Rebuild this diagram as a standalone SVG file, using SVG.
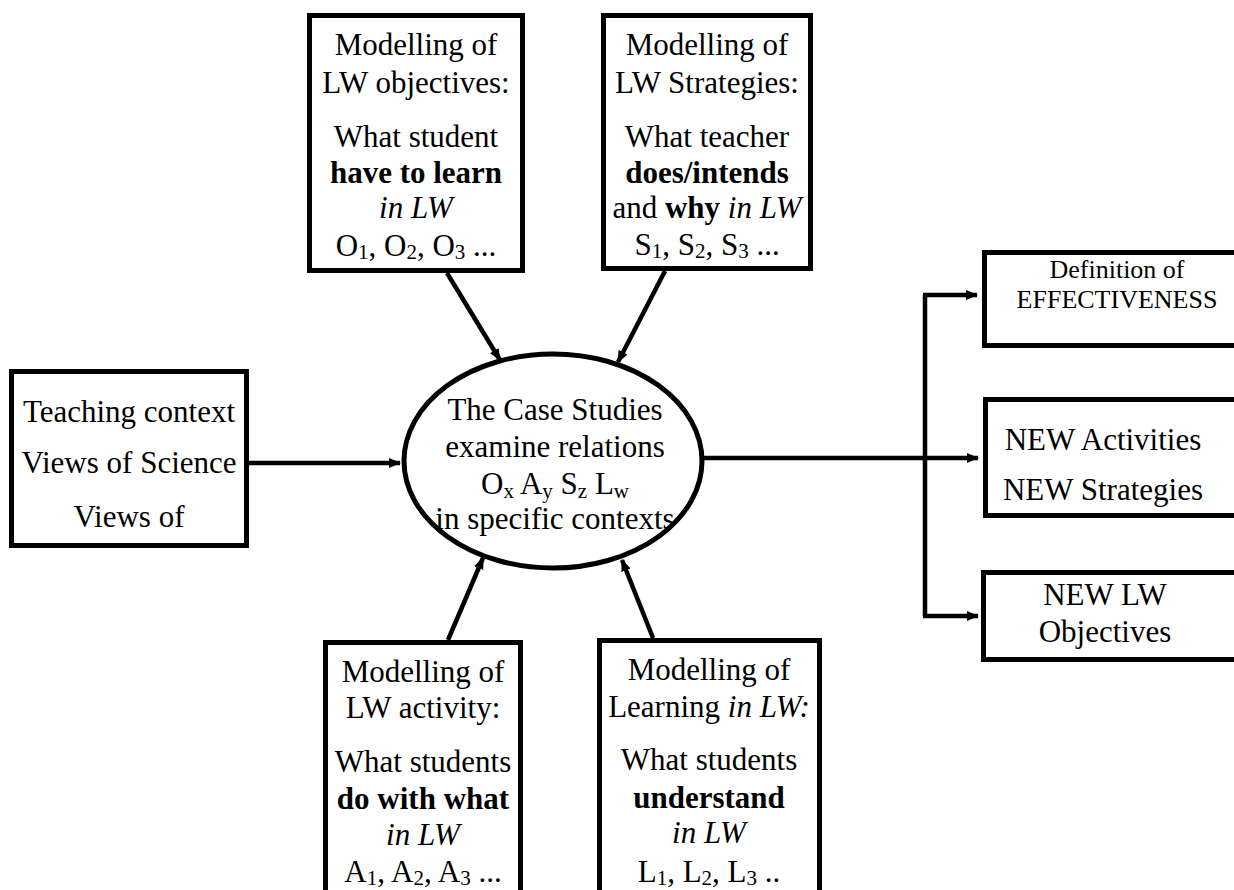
<svg xmlns="http://www.w3.org/2000/svg" width="1234" height="890" viewBox="0 0 1234 890">
  <style>
    svg g[id] text, svg g[id] tspan { font-family: 'Liberation Serif', 'Times New Roman', serif !important; }
    .frame { fill: #fff; stroke: #000; stroke-width: 5; }
    .link { fill: none; stroke: #000; stroke-width: 4.5; }
  </style>
  <defs>
    <marker id="arrow" viewBox="0 0 12 10" refX="11" refY="5" markerWidth="12" markerHeight="10" markerUnits="userSpaceOnUse" orient="auto">
      <path d="M0,0 L12,5 L0,10 z" fill="#000"/>
    </marker>
  </defs>
  <rect width="1234" height="890" fill="#fff"/>

  <!-- connectors -->
  <g id="connectors">
    <line class="link" x1="447" y1="273" x2="500" y2="360" marker-end="url(#arrow)"/>
    <line class="link" x1="665" y1="271" x2="618" y2="362" marker-end="url(#arrow)"/>
    <line class="link" x1="249" y1="463" x2="400" y2="463" marker-end="url(#arrow)"/>
    <line class="link" x1="448" y1="640" x2="483" y2="558" marker-end="url(#arrow)"/>
    <line class="link" x1="653" y1="638" x2="622" y2="560" marker-end="url(#arrow)"/>
    <line class="link" x1="702" y1="458" x2="978" y2="458" marker-end="url(#arrow)"/>
    <polyline class="link" points="925,295 925,616"/>
    <line class="link" x1="923" y1="295" x2="977" y2="295" marker-end="url(#arrow)"/>
    <line class="link" x1="923" y1="616" x2="978" y2="616" marker-end="url(#arrow)"/>
  </g>

  <!-- objectives -->
  <g id="objectives">
    <rect class="frame" x="309.5" y="15.5" width="213" height="255"/>
    <text style="font-family:'Liberation Serif',serif;font-size:31px;text-anchor:middle" x="416" y="55">Modelling of</text>
    <text style="font-family:'Liberation Serif',serif;font-size:31px;text-anchor:middle" x="416" y="93">LW objectives:</text>
    <text style="font-family:'Liberation Serif',serif;font-size:31px;text-anchor:middle" x="416" y="147">What student</text>
    <text style="font-family:'Liberation Serif',serif;font-size:31px;text-anchor:middle;font-weight:bold" x="416" y="183">have to learn</text>
    <text style="font-family:'Liberation Serif',serif;font-size:31px;text-anchor:middle;font-style:italic" x="416" y="218">in LW</text>
    <text style="font-family:'Liberation Serif',serif;font-size:31px;text-anchor:middle" x="416" y="256">O<tspan style="font-size:21px" baseline-shift="-3">1</tspan>, O<tspan style="font-size:21px" baseline-shift="-3">2</tspan>, O<tspan style="font-size:21px" baseline-shift="-3">3</tspan> ...</text>
  </g>

  <!-- strategies -->
  <g id="strategies">
    <rect class="frame" x="603.5" y="15.5" width="207" height="253"/>
    <text style="font-family:'Liberation Serif',serif;font-size:31px;text-anchor:middle" x="707" y="55">Modelling of</text>
    <text style="font-family:'Liberation Serif',serif;font-size:31px;text-anchor:middle" x="707" y="93">LW Strategies:</text>
    <text style="font-family:'Liberation Serif',serif;font-size:31px;text-anchor:middle" x="707" y="147">What teacher</text>
    <text style="font-family:'Liberation Serif',serif;font-size:31px;text-anchor:middle;font-weight:bold" x="707" y="183">does/intends</text>
    <text style="font-family:'Liberation Serif',serif;font-size:31px;text-anchor:middle" x="707" y="218">and <tspan style="font-weight:bold">why</tspan> <tspan style="font-style:italic">in LW</tspan></text>
    <text style="font-family:'Liberation Serif',serif;font-size:31px;text-anchor:middle" x="707" y="255">S<tspan style="font-size:21px" baseline-shift="-3">1</tspan>, S<tspan style="font-size:21px" baseline-shift="-3">2</tspan>, S<tspan style="font-size:21px" baseline-shift="-3">3</tspan> ...</text>
  </g>

  <!-- context -->
  <g id="context">
    <rect class="frame" x="11.5" y="371.5" width="235" height="174"/>
    <text style="font-family:'Liberation Serif',serif;font-size:31px;text-anchor:middle" x="129" y="422">Teaching context</text>
    <text style="font-family:'Liberation Serif',serif;font-size:31px;text-anchor:middle" x="129" y="473">Views of Science</text>
    <text style="font-family:'Liberation Serif',serif;font-size:31px;text-anchor:middle" x="129" y="527">Views of</text>
  </g>

  <!-- case studies -->
  <g id="case-studies">
    <ellipse cx="553" cy="461" rx="149" ry="107" fill="none" stroke="#000" stroke-width="5"/>
    <text style="font-family:'Liberation Serif',serif;font-size:31px;text-anchor:middle" x="555" y="420">The Case Studies</text>
    <text style="font-family:'Liberation Serif',serif;font-size:31px;text-anchor:middle" x="555" y="457">examine relations</text>
    <text style="font-family:'Liberation Serif',serif;font-size:31px;text-anchor:middle" x="555" y="494">O<tspan style="font-size:21px" baseline-shift="-4">x</tspan> A<tspan style="font-size:21px" baseline-shift="-4">y</tspan> S<tspan style="font-size:21px" baseline-shift="-4">z</tspan> L<tspan style="font-size:21px" baseline-shift="-4">w</tspan></text>
    <text style="font-family:'Liberation Serif',serif;font-size:31px;text-anchor:middle" x="555" y="529">in specific contexts</text>
  </g>

  <!-- activity -->
  <g id="activity">
    <rect class="frame" x="325.5" y="642.5" width="195" height="260"/>
    <text style="font-family:'Liberation Serif',serif;font-size:31px;text-anchor:middle" x="423" y="682">Modelling of</text>
    <text style="font-family:'Liberation Serif',serif;font-size:31px;text-anchor:middle" x="423" y="718">LW activity:</text>
    <text style="font-family:'Liberation Serif',serif;font-size:31px;text-anchor:middle" x="423" y="772">What students</text>
    <text style="font-family:'Liberation Serif',serif;font-size:31px;text-anchor:middle;font-weight:bold" x="423" y="809">do with what</text>
    <text style="font-family:'Liberation Serif',serif;font-size:31px;text-anchor:middle;font-style:italic" x="423" y="845">in LW</text>
    <text style="font-family:'Liberation Serif',serif;font-size:31px;text-anchor:middle" x="423" y="882">A<tspan style="font-size:21px" baseline-shift="-3">1</tspan>, A<tspan style="font-size:21px" baseline-shift="-3">2</tspan>, A<tspan style="font-size:21px" baseline-shift="-3">3</tspan> ...</text>
  </g>

  <!-- learning -->
  <g id="learning">
    <rect class="frame" x="599.5" y="640.5" width="220" height="260"/>
    <text style="font-family:'Liberation Serif',serif;font-size:31px;text-anchor:middle" x="709" y="680">Modelling of</text>
    <text style="font-family:'Liberation Serif',serif;font-size:31px;text-anchor:middle" x="709" y="717">Learning <tspan style="font-style:italic">in LW:</tspan></text>
    <text style="font-family:'Liberation Serif',serif;font-size:31px;text-anchor:middle" x="709" y="770">What students</text>
    <text style="font-family:'Liberation Serif',serif;font-size:31px;text-anchor:middle;font-weight:bold" x="709" y="808">understand</text>
    <text style="font-family:'Liberation Serif',serif;font-size:31px;text-anchor:middle;font-style:italic" x="709" y="843">in LW</text>
    <text style="font-family:'Liberation Serif',serif;font-size:31px;text-anchor:middle" x="709" y="882">L<tspan style="font-size:21px" baseline-shift="-3">1</tspan>, L<tspan style="font-size:21px" baseline-shift="-3">2</tspan>, L<tspan style="font-size:21px" baseline-shift="-3">3</tspan> ..</text>
  </g>

  <!-- outcomes -->
  <g id="effectiveness">
    <rect class="frame" x="984.5" y="252.5" width="260" height="93"/>
    <text style="font-family:'Liberation Serif',serif;font-size:26px;text-anchor:middle" x="1117" y="278">Definition of</text>
    <text style="font-family:'Liberation Serif',serif;font-size:26px;text-anchor:middle" x="1117" y="308">EFFECTIVENESS</text>
  </g>
  <g id="new-activities">
    <rect class="frame" x="985.5" y="399.5" width="260" height="116"/>
    <text style="font-family:'Liberation Serif',serif;font-size:31px;text-anchor:middle" x="1103" y="450">NEW Activities</text>
    <text style="font-family:'Liberation Serif',serif;font-size:31px;text-anchor:middle" x="1103" y="500">NEW Strategies</text>
  </g>
  <g id="new-objectives">
    <rect class="frame" x="983.5" y="572.5" width="260" height="87"/>
    <text style="font-family:'Liberation Serif',serif;font-size:31px;text-anchor:middle" x="1105" y="605">NEW LW</text>
    <text style="font-family:'Liberation Serif',serif;font-size:31px;text-anchor:middle" x="1105" y="642">Objectives</text>
  </g>
</svg>
